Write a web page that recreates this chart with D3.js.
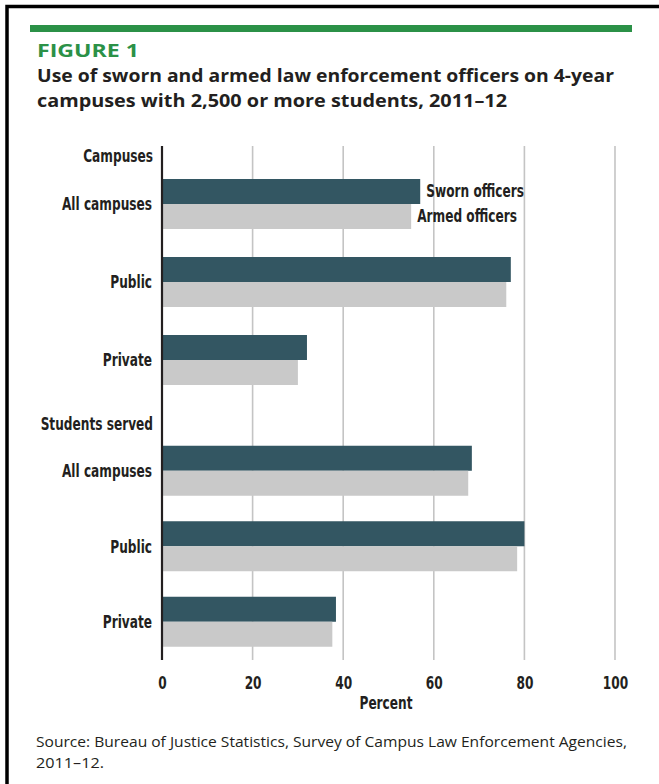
<!DOCTYPE html>
<html>
<head>
<meta charset="utf-8">
<script src="https://cdn.jsdelivr.net/npm/d3@7"></script>
<style>
  body { margin: 0; background: #fff; }
  svg { display: block; }
  .cond { font-family: "Liberation Sans Narrow", "DejaVu Sans Condensed", "Open Sans", sans-serif; }
</style>
</head>
<body>
<svg id="chart"></svg>
<script>
// data
const categories = ['All campuses', 'Public', 'Private']
const sectionNames = ['Campuses', 'Students served']
const seriesNames = ['Sworn officers', 'Armed officers']
const swornCampuses = [57, 77, 32]
const armedCampuses = [55, 76, 30]
const swornStudents = [68.4, 80, 38.4]
const armedStudents = [67.6, 78.4, 37.6]
const xTicks = [0, 20, 40, 60, 80, 100]

const W = 659, H = 784
const svg = d3.select('#chart').attr('width', W).attr('height', H)

// frame (cut off on the right and bottom)
svg.append('rect')
  .attr('x', 7).attr('y', 6.5)
  .attr('width', 720).attr('height', 820)
  .attr('fill', 'none').attr('stroke', '#000').attr('stroke-width', 3.5)

// green rule + heading
svg.append('rect').attr('x', 30).attr('y', 25).attr('width', 602).attr('height', 7).attr('fill', '#2b9147')

svg.append('text')
  .attr('x', 37).attr('y', 57)
  .attr('font-family', '"Open Sans", sans-serif').attr('font-weight', 700)
  .attr('font-size', '17px').attr('fill', '#2b9147')
  .attr('textLength', 102).attr('lengthAdjust', 'spacingAndGlyphs')
  .text('FIGURE 1')

const titleLines = ['Use of sworn and armed law enforcement officers on 4-year',
                    'campuses with 2,500 or more students, 2011\u201312']
const titleLens = [577, 470]
svg.selectAll('.title').data(titleLines).enter().append('text')
  .attr('class', 'title')
  .attr('x', 37).attr('y', (d, i) => 82 + i * 25)
  .attr('font-family', '"Open Sans", sans-serif').attr('font-weight', 700)
  .attr('font-size', '18.5px').attr('fill', '#231f20')
  .attr('textLength', (d, i) => titleLens[i]).attr('lengthAdjust', 'spacingAndGlyphs')
  .text(d => d)

// scales
const x = d3.scaleLinear().domain([0, 100]).range([162, 615])
const plotTop = 146, plotBottom = 660
const sectionRanges = [[165, 399], [433, 659.5]]
const sections = [
  {name: sectionNames[0], values: [swornCampuses, armedCampuses]},
  {name: sectionNames[1], values: [swornStudents, armedStudents]}
]
const barH = 25
const sub = d3.scaleBand().domain(seriesNames).range([0, barH * 2])
const colors = d3.scaleOrdinal().domain(seriesNames).range(['#335662', '#c9c9c9'])

// grid lines
svg.append('g').selectAll('line').data(xTicks.slice(1)).enter().append('line')
  .attr('x1', d => x(d)).attr('x2', d => x(d))
  .attr('y1', plotTop).attr('y2', plotBottom)
  .attr('stroke', '#c4c4c4').attr('stroke-width', 1.6)

sections.forEach((sec, si) => {
  const y = d3.scaleBand().domain(categories).range(sectionRanges[si])
  const pad = (y.step() - barH * 2) / 2
  const g = svg.append('g')

  g.append('text')
    .attr('class', 'cond')
    .attr('x', 153).attr('y', sectionRanges[si][0] - 3)
    .attr('text-anchor', 'end').attr('font-size', '18px').attr('font-weight', 700)
    .attr('fill', '#231f20')
    .text(sec.name)

  categories.forEach((cat, ci) => {
    g.append('text')
      .attr('class', 'cond')
      .attr('x', 152).attr('y', y(cat) + y.step() / 2)
      .attr('dy', '0.35em')
      .attr('text-anchor', 'end').attr('font-size', '18px').attr('font-weight', 600)
      .attr('fill', '#231f20')
      .text(cat)

    seriesNames.forEach((s, k) => {
      const v = sec.values[k][ci]
      g.append('rect')
        .attr('x', x(0)).attr('y', y(cat) + pad + sub(s))
        .attr('width', x(v) - x(0)).attr('height', sub.bandwidth())
        .attr('fill', colors(s))
      // series labels sit beside the first pair of bars
      if (si === 0 && ci === 0) {
        g.append('text')
          .attr('class', 'cond')
          .attr('x', x(v) + 6).attr('y', y(cat) + pad + sub(s) + sub.bandwidth() / 2)
          .attr('dy', '0.32em').attr('font-size', '18px').attr('font-weight', 600)
          .attr('fill', '#231f20')
          .text(s)
      }
    })
  })
})

// vertical axis line
svg.append('line')
  .attr('x1', x(0)).attr('x2', x(0)).attr('y1', plotTop).attr('y2', plotBottom)
  .attr('stroke', '#231f20').attr('stroke-width', 2.2)

// x axis labels
const axis = svg.append('g')
  .attr('transform', 'translate(0,' + plotBottom + ')')
  .call(d3.axisBottom(x).tickValues(xTicks).tickSize(0).tickPadding(16))
axis.select('.domain').remove()
axis.selectAll('text')
  .attr('class', 'cond')
  .attr('font-size', '18px').attr('font-weight', 700).attr('fill', '#231f20')

svg.append('text')
  .attr('class', 'cond')
  .attr('x', 386).attr('y', 709)
  .attr('text-anchor', 'middle').attr('font-size', '18px').attr('font-weight', 700)
  .attr('fill', '#231f20')
  .text('Percent')

// squeeze the label font to look condensed like the original
svg.selectAll('.cond').each(function () {
  const w = this.getComputedTextLength()
  d3.select(this).attr('textLength', w * 0.75).attr('lengthAdjust', 'spacingAndGlyphs')
})

// source note
const sourceLines = ['Source: Bureau of Justice Statistics, Survey of Campus Law Enforcement Agencies,', '2011\u201312.']
const sourceLens = [591, 68]
svg.selectAll('.src').data(sourceLines).enter().append('text')
  .attr('class', 'src')
  .attr('x', 36).attr('y', (d, i) => 747 + i * 21)
  .attr('font-family', '"Open Sans", sans-serif').attr('font-size', '15px')
  .attr('fill', '#231f20')
  .attr('textLength', (d, i) => sourceLens[i]).attr('lengthAdjust', 'spacingAndGlyphs')
  .text(d => d)
</script>
</body>
</html>
